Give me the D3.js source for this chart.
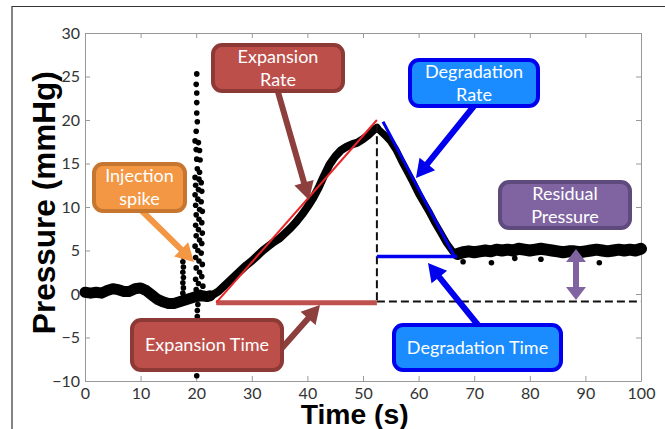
<!DOCTYPE html>
<html>
<head>
<meta charset="utf-8">
<script src="https://cdn.jsdelivr.net/npm/d3@7"></script>
<style>
  body { margin: 0; background: #fff; }
  svg { display: block; }
</style>
</head>
<body>
<div id="chart"></div>
<script>
// tick values
const xTickValues = [0, 10, 20, 30, 40, 50, 60, 70, 80, 90, 100];
const yTickValues = [-10, -5, 0, 5, 10, 15, 20, 25, 30];

// pressure trace [time s, pressure mmHg]
const baselineTrace = [[0,0.2],[1,0.1],[2,0.2],[3,0.1],[4,0.4],[5,0.6],[6,0.5],[7,0.3],[8,0.3],[9,0.6],
  [10,0.7],[11,0.4],[12,-0.1],[13,-0.6],[14,-0.9],[15,-1.1],[16,-1.1],[17,-0.9],[18,-0.7],[19,-0.5],
  [20,-0.3],[21,-0.2],[22,-0.3],[22.5,-0.2]];
const riseTrace = [[22.5,-0.2],[23,-0.1],[24,0.3],[25,0.9],[26,1.5],[27,2.1],[28,2.7],[29,3.3],[30,3.8],
  [31,4.4],[32,5.0],[33,5.5],[34,6.0],[35,6.4],[36,7.0],[37,7.6],[38,8.3],[39,9.1],[40,10.0],[41,11.0],
  [42,12.2],[43,13.6],[44,14.9],[45,15.8],[46,16.5],[47,16.9],[48,17.2],[49,17.4],[50,17.8],[51,18.3],
  [52,18.9],[52.5,19.1]];
const decayTrace = [[52.5,19.1],[53,18.8],[54,18.2],[55,17.5],[56,16.5],[57,15.2],[58,14.0],[59,12.8],
  [60,11.5],[61,10.4],[62,9.3],[63,8.1],[64,7.0],[65,5.9],[66,5.0],[66.5,4.6],[67,4.6]];
const plateauTrace = [[67,4.6],[68,4.8],[69,4.9],[70,4.8],[71,4.9],[72,5.0],[73,4.9],[74,5.1],[75,5.0],
  [76,5.1],[77,5.0],[78,5.2],[79,5.1],[80,5.0],[81,5.1],[82,5.2],[83,5.1],[84,5.0],[85,4.9],[86,4.8],
  [87,4.9],[88,4.9],[89,4.8],[90,4.9],[91,5.0],[92,5.1],[93,5.0],[94,4.9],[95,5.0],[96,5.1],[97,5.0],
  [98,5.1],[99,5.0],[100,5.2]];
const plateauOutliers = [[68.0,3.7],[73.1,3.6],[77.3,4.1],[82.0,4.0],[92.5,3.6]];

// loose samples of the injection spike
const spikeDots = [
  [20.1,25.3],[20.0,24.1],[20.1,23.1],[20.1,22.0],[20.1,20.8],[20.2,19.8],[20.0,18.7],[19.8,17.6],
  [20.4,17.4],[20.0,16.6],[20.6,16.5],[20.1,15.5],[20.7,15.4],[20.2,14.4],[20.6,14.0],
  [19.8,13.4],[20.5,13.2],[20.9,12.8],[19.9,12.5],[20.4,12.0],[21.0,11.8],[19.8,11.4],[20.3,10.9],
  [20.9,10.6],[19.9,10.2],[20.6,9.7],[21.1,9.5],[20.0,9.1],[20.5,8.6],[21.0,8.2],[19.9,7.9],[20.4,7.4],
  [21.1,7.0],[20.0,6.7],[20.6,6.2],[21.0,5.8],[19.8,5.5],[20.3,5.0],[20.9,4.7],[19.9,4.2],[20.5,3.8],
  [21.1,3.4],[20.0,3.0],[20.6,2.5],[21.0,2.0],[19.9,1.7],[20.4,1.2],[21.2,0.9],[20.0,0.5],[20.7,0.2],
  [21.3,-0.1],[20.1,-0.5],[20.3,-1.2],[20.2,-1.9],[20.2,-2.6],[20.1,-9.4],
  [17.7,4.3],[17.6,3.7],[17.7,3.1],[17.6,2.5],[17.7,1.9],[17.6,1.3],[17.7,0.7],[17.6,0.1],[17.7,-0.4]
];

// fitted lines and markers
const expansionFit = [[23.6,-1.0],[52.5,20.0]];
const degradationFit = [[53.6,19.8],[66.5,4.25]];
const expansionTimeBar = [[23.6,-1.0],[52.5,-1.0]];
const degradationTimeBar = [[52.5,4.3],[66.9,4.3]];
const peakDrop = [[52.5,19.5],[52.5,-0.85]];
const zeroRef = [[52.5,-0.85],[100,-0.85]];

const width = 665, height = 429;
const margin = {top: 33, right: 24, bottom: 48, left: 85};

const svg = d3.select("#chart").append("svg")
  .attr("width", width).attr("height", height);

// outer figure frame
svg.append("path").attr("d", `M12,${height}V6.5H${width}`)
  .attr("fill", "none").attr("stroke", "#333").attr("stroke-width", 1.2);

const x = d3.scaleLinear().domain([0, 100]).range([margin.left, width - margin.right]);
const y = d3.scaleLinear().domain([-10, 30]).range([height - margin.bottom, margin.top]);

const tickFont = "Lato, 'Open Sans', sans-serif";
function styleAxis(g) {
  g.select(".domain").attr("stroke", "#999");
  g.selectAll(".tick line").attr("stroke", "#999");
  g.selectAll(".tick text").attr("fill", "#333").attr("font-family", tickFont).attr("font-size", 16);
}

svg.append("g").attr("transform", `translate(0,${y(-10)})`)
  .call(d3.axisBottom(x).tickValues(xTickValues).tickSize(-5).tickSizeOuter(0).tickPadding(7))
  .call(styleAxis);
svg.append("g").attr("transform", `translate(0,${y(30)})`)
  .call(d3.axisTop(x).tickValues(xTickValues).tickSize(-5).tickSizeOuter(0).tickFormat(""))
  .call(styleAxis);
svg.append("g").attr("transform", `translate(${x(0)},0)`)
  .call(d3.axisLeft(y).tickValues(yTickValues).tickSize(-5).tickSizeOuter(0).tickPadding(5))
  .call(styleAxis);
svg.append("g").attr("transform", `translate(${x(100)},0)`)
  .call(d3.axisRight(y).tickValues(yTickValues).tickSize(-5).tickSizeOuter(0).tickFormat(""))
  .call(styleAxis);

// axis titles
svg.append("text")
  .attr("transform", `translate(55,${y(10.5)}) rotate(-90)`)
  .attr("text-anchor", "middle")
  .attr("font-family", "'Liberation Sans', Arial, sans-serif")
  .attr("font-weight", "bold").attr("font-size", 32)
  .attr("textLength", 263).attr("lengthAdjust", "spacingAndGlyphs")
  .text("Pressure (mmHg)");
svg.append("text")
  .attr("x", x(48.5)).attr("y", 424)
  .attr("text-anchor", "middle")
  .attr("font-family", "'Liberation Sans', Arial, sans-serif")
  .attr("font-weight", "bold").attr("font-size", 28)
  .attr("textLength", 108).attr("lengthAdjust", "spacingAndGlyphs")
  .text("Time (s)");

// pressure trace
const line = d3.line().x(d => x(d[0])).y(d => y(d[1]));
const traces = [
  {data: baselineTrace, w: 11},
  {data: riseTrace, w: 8},
  {data: decayTrace, w: 7},
  {data: plateauTrace, w: 12}
];
traces.forEach(t => {
  svg.append("path").datum(t.data)
    .attr("fill", "none").attr("stroke", "#000").attr("stroke-width", t.w)
    .attr("stroke-linejoin", "round").attr("stroke-linecap", "round")
    .attr("d", line);
});
svg.append("g").selectAll("circle")
  .data(spikeDots.concat(plateauOutliers))
  .join("circle")
  .attr("cx", d => x(d[0])).attr("cy", d => y(d[1])).attr("r", 2.8)
  .attr("fill", "#000");

// dashed reference lines
[peakDrop, zeroRef].forEach(d => {
  svg.append("path").datum(d).attr("d", line)
    .attr("stroke", "#111").attr("stroke-width", 2).attr("stroke-dasharray", "8,4").attr("fill", "none");
});

// fits and time bars
svg.append("path").datum(expansionTimeBar).attr("d", line)
  .attr("stroke", "#c0504d").attr("stroke-width", 5).attr("fill", "none");
svg.append("path").datum(expansionFit).attr("d", line)
  .attr("stroke", "#e8262a").attr("stroke-width", 2).attr("fill", "none");
svg.append("path").datum(degradationFit).attr("d", line)
  .attr("stroke", "#0000ee").attr("stroke-width", 3).attr("fill", "none");
svg.append("path").datum(degradationTimeBar).attr("d", line)
  .attr("stroke", "#0000ee").attr("stroke-width", 3.5).attr("fill", "none");

// callout arrows
function arrowPoints(x1, y1, x2, y2, sw, hw, hl, twoHeads) {
  const len = Math.hypot(x2 - x1, y2 - y1), ux = (x2 - x1) / len, uy = (y2 - y1) / len;
  const nx = -uy, ny = ux;
  const p = (px, py, n) => [px + nx * n, py + ny * n];
  const bx = x2 - ux * hl, by = y2 - uy * hl;
  if (!twoHeads) {
    return [p(x1, y1, sw / 2), p(bx, by, sw / 2), p(bx, by, hw / 2), [x2, y2],
            p(bx, by, -hw / 2), p(bx, by, -sw / 2), p(x1, y1, -sw / 2)];
  }
  const ax = x1 + ux * hl, ay = y1 + uy * hl;
  return [[x1, y1], p(ax, ay, hw / 2), p(ax, ay, sw / 2), p(bx, by, sw / 2), p(bx, by, hw / 2), [x2, y2],
          p(bx, by, -hw / 2), p(bx, by, -sw / 2), p(ax, ay, -sw / 2), p(ax, ay, -hw / 2)];
}

const arrows = [
  {from: [141, 210], to: [194, 262], color: "#f39745"},
  {from: [278, 92], to: [309, 200], color: "#8d3f3d"},
  {from: [474, 106], to: [416, 178], color: "#0000ee"},
  {from: [282, 348], to: [320, 305], color: "#8d3f3d"},
  {from: [478, 325], to: [428, 263], color: "#0000ee"},
  {from: [576, 249], to: [576, 300], color: "#8064a2", both: true}
];
arrows.forEach(a => {
  svg.append("polygon")
    .attr("points", arrowPoints(a.from[0], a.from[1], a.to[0], a.to[1], 6, 20, a.both ? 13 : 18, a.both).join(" "))
    .attr("fill", a.color);
});

// callout boxes
const callouts = [
  {lines: ["Injection", "spike"], x: 92, y: 162, w: 95, h: 51, fill: "#f39745", stroke: "#c7762f"},
  {lines: ["Expansion", "Rate"], x: 211, y: 43, w: 134, h: 50, fill: "#bd4f4b", stroke: "#8d3936"},
  {lines: ["Degradation", "Rate"], x: 408, y: 58, w: 132, h: 50, fill: "#1a8cff", stroke: "#0000ee"},
  {lines: ["Residual", "Pressure"], x: 498, y: 180, w: 134, h: 50, fill: "#8064a2", stroke: "#5e4a7c"},
  {lines: ["Expansion Time"], x: 130, y: 318, w: 154, h: 54, fill: "#bd4f4b", stroke: "#8d3936"},
  {lines: ["Degradation Time"], x: 392, y: 323, w: 171, h: 49, fill: "#1a8cff", stroke: "#0000ee"}
];
callouts.forEach(c => {
  const g = svg.append("g");
  g.append("rect")
    .attr("x", c.x + 2).attr("y", c.y + 2).attr("width", c.w - 4).attr("height", c.h - 4)
    .attr("rx", 9).attr("fill", c.fill).attr("stroke", c.stroke).attr("stroke-width", 4);
  const cy = c.y + c.h / 2;
  c.lines.forEach((t, i) => {
    g.append("text")
      .attr("x", c.x + c.w / 2)
      .attr("y", cy + (i - (c.lines.length - 1) / 2) * 23)
      .attr("dy", "0.35em")
      .attr("text-anchor", "middle")
      .attr("font-family", "Lato, 'Open Sans', sans-serif")
      .attr("font-size", 18)
      .attr("fill", "#fff")
      .text(t);
  });
});
</script>
</body>
</html>
